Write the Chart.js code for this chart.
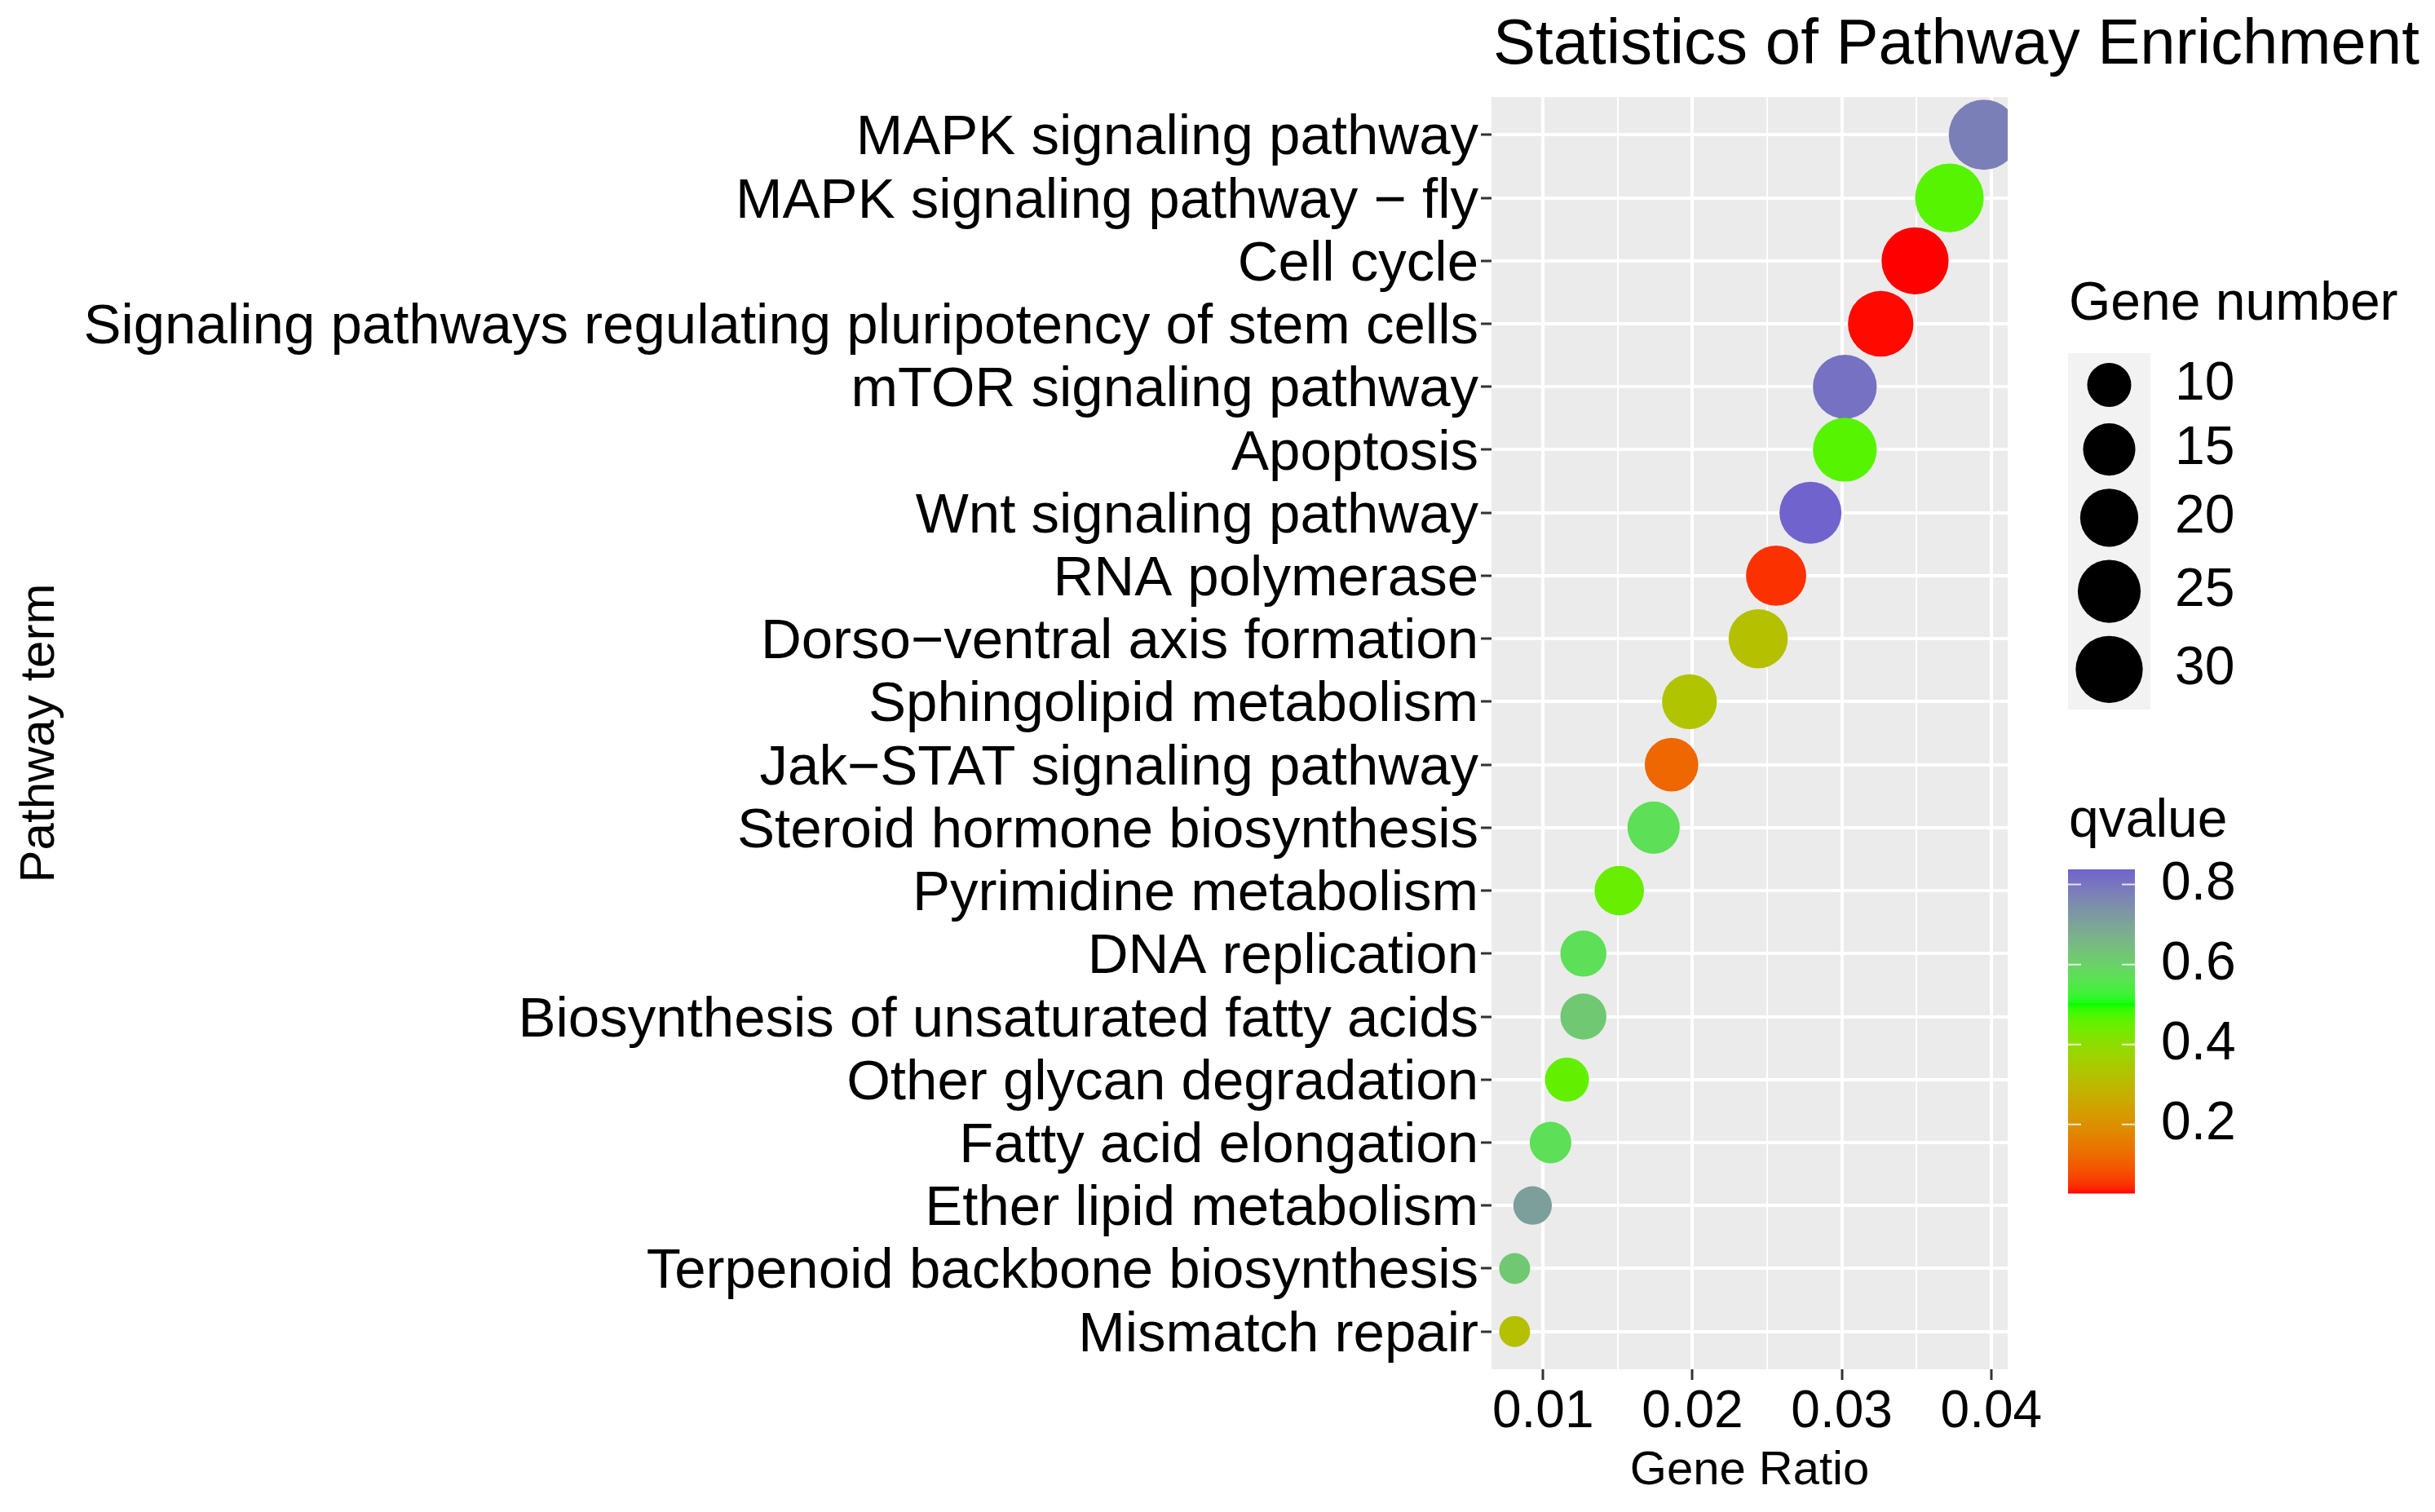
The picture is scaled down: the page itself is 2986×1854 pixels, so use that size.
<!DOCTYPE html>
<html>
<head>
<meta charset="utf-8">
<script src="https://cdn.jsdelivr.net/npm/chart.js@4.4.1/dist/chart.umd.min.js"></script>
<style>
	html, body { margin: 0; padding: 0; background: #fff; }
	#wrap { width: 2986px; height: 1854px; }
</style>
</head>
<body>
<div id="wrap"><canvas id="chart" width="2986" height="1854"></canvas></div>
<script>
//------------------------------------ Data ------------------------------------//

var chartTitle = 'Statistics of Pathway Enrichment';

var pathways = [
	'MAPK signaling pathway',
	'MAPK signaling pathway \u2212 fly',
	'Cell cycle',
	'Signaling pathways regulating pluripotency of stem cells',
	'mTOR signaling pathway',
	'Apoptosis',
	'Wnt signaling pathway',
	'RNA polymerase',
	'Dorso\u2212ventral axis formation',
	'Sphingolipid metabolism',
	'Jak\u2212STAT signaling pathway',
	'Steroid hormone biosynthesis',
	'Pyrimidine metabolism',
	'DNA replication',
	'Biosynthesis of unsaturated fatty acids',
	'Other glycan degradation',
	'Fatty acid elongation',
	'Ether lipid metabolism',
	'Terpenoid backbone biosynthesis',
	'Mismatch repair'
];

var geneRatio = [0.0395, 0.0372, 0.0349, 0.0326, 0.0302, 0.0302, 0.0279, 0.0256, 0.0244, 0.0198,
	0.0186, 0.0174, 0.0151, 0.0127, 0.0127, 0.0116, 0.0105, 0.0093, 0.0081, 0.0081];

var geneNumber = [34, 32, 30, 28, 26, 26, 24, 22, 21, 17, 16, 15, 13, 11, 11, 10, 9, 8, 7, 7];

var qvalue = [0.78, 0.467, 0.028, 0.03, 0.81, 0.467, 0.838, 0.05, 0.32, 0.33,
	0.118, 0.571, 0.45, 0.57, 0.62, 0.455, 0.57, 0.71, 0.62, 0.32];

var xTickValues = [0.01, 0.02, 0.03, 0.04];
var xTickLabels = ['0.01', '0.02', '0.03', '0.04'];
var xMinorValues = [0.015, 0.025, 0.035];

var sizeBreaks = [10, 15, 20, 25, 30];
var qBreaks = [0.2, 0.4, 0.6, 0.8];
var qBreakLabels = ['0.2', '0.4', '0.6', '0.8'];

//------------------------------------ Scales (size / colour) ------------------------------------//

var FONT = '"Liberation Sans", Arial, Helvetica, sans-serif';

var nMin = Math.min.apply(null, geneNumber);
var nMax = Math.max.apply(null, geneNumber);
var diamMin = 38, diamMax = 86;

function bubbleRadius(n) {
	var t = (n - nMin) / (nMax - nMin);
	return (diamMin + (diamMax - diamMin) * Math.sqrt(Math.max(t, 0))) / 2;
}

function toLinear(c) {
	c = c / 255;
	return c <= 0.04045 ? c / 12.92 : Math.pow((c + 0.055) / 1.055, 2.4);
}

function hexToLab(hex) {
	var r = toLinear(parseInt(hex.substr(1, 2), 16));
	var g = toLinear(parseInt(hex.substr(3, 2), 16));
	var b = toLinear(parseInt(hex.substr(5, 2), 16));
	var x = (0.4124 * r + 0.3576 * g + 0.1805 * b) / 0.95047;
	var y = (0.2126 * r + 0.7152 * g + 0.0722 * b);
	var z = (0.0193 * r + 0.1192 * g + 0.9505 * b) / 1.08883;
	var f = function(t) { return t > 0.008856 ? Math.cbrt(t) : 7.787 * t + 16 / 116; };
	var fx = f(x), fy = f(y), fz = f(z);
	return [116 * fy - 16, 500 * (fx - fy), 200 * (fy - fz)];
}

function labToRgb(lab) {
	var fy = (lab[0] + 16) / 116;
	var fx = fy + lab[1] / 500;
	var fz = fy - lab[2] / 200;
	var inv = function(t) { var t3 = t * t * t; return t3 > 0.008856 ? t3 : (t - 16 / 116) / 7.787; };
	var x = 0.95047 * inv(fx), y = inv(fy), z = 1.08883 * inv(fz);
	var rgb = [
		3.2406 * x - 1.5372 * y - 0.4986 * z,
		-0.9689 * x + 1.8758 * y + 0.0415 * z,
		0.0557 * x - 0.2040 * y + 1.0570 * z
	].map(function(c) {
		c = c <= 0.0031308 ? 12.92 * c : 1.055 * Math.pow(c, 1 / 2.4) - 0.055;
		return Math.round(Math.min(1, Math.max(0, c)) * 255);
	});
	return 'rgb(' + rgb.join(',') + ')';
}

var lowLab = hexToLab('#FF0000');
var midLab = hexToLab('#00FF00');
var highLab = hexToLab('#0000FF');
var qMid = 0.5;
var qMin = Math.min.apply(null, qvalue);
var qMax = Math.max.apply(null, qvalue);
var qExtent = Math.max(Math.abs(qMin - qMid), Math.abs(qMax - qMid));

function mixLab(a, b, t) {
	return [a[0] + (b[0] - a[0]) * t, a[1] + (b[1] - a[1]) * t, a[2] + (b[2] - a[2]) * t];
}

function qColor(q) {
	var t = 0.5 + (q - qMid) / (2 * qExtent);
	t = Math.min(1, Math.max(0, t));
	if(t <= 0.5) {
		return labToRgb(mixLab(lowLab, midLab, t / 0.5));
	}
	return labToRgb(mixLab(midLab, highLab, (t - 0.5) / 0.5));
}

function isMajorX(v) {
	return xTickValues.some(function(m) { return Math.abs(m - v) < 1e-9; });
}

//------------------------------------ Plugins ------------------------------------//

var panelBackground = {
	id: 'panelBackground',
	beforeDraw: function(chart) {
		var ctx = chart.ctx;
		var a = chart.chartArea;
		ctx.save();
		ctx.fillStyle = '#ffffff';
		ctx.fillRect(0, 0, chart.width, chart.height);
		ctx.fillStyle = '#EBEBEB';
		ctx.fillRect(a.left, a.top, a.right - a.left, a.bottom - a.top);
		ctx.restore();
	}
};

var sideLegends = {
	id: 'sideLegends',
	afterDraw: function(chart) {
		var ctx = chart.ctx;
		ctx.save();

		// title
		ctx.fillStyle = '#000';
		ctx.textAlign = 'left';
		ctx.textBaseline = 'alphabetic';
		ctx.font = '78px ' + FONT;
		ctx.fillText(chartTitle, 1831, 78);

		// size legend
		ctx.font = '66px ' + FONT;
		ctx.fillText('Gene number', 2537, 392);

		var keyLeft = 2536, keyWidth = 101, keyTop = 433;
		var diams = sizeBreaks.map(function(n) { return 2 * bubbleRadius(n); });
		var heights = diams.map(function(d) { return Math.max(78, d + 16); });
		var keyHeight = heights.reduce(function(s, h) { return s + h; }, 0);
		ctx.fillStyle = '#F2F2F2';
		ctx.fillRect(keyLeft, keyTop, keyWidth, keyHeight);

		var y = keyTop;
		ctx.textBaseline = 'middle';
		diams.forEach(function(d, i) {
			var cy = y + heights[i] / 2;
			ctx.fillStyle = '#000';
			ctx.beginPath();
			ctx.arc(keyLeft + keyWidth / 2, cy, d / 2, 0, Math.PI * 2);
			ctx.fill();
			ctx.fillText(String(sizeBreaks[i]), 2667, cy);
			y += heights[i];
		});

		// colour bar
		ctx.textBaseline = 'alphabetic';
		ctx.fillText('qvalue', 2537, 1026);

		var bx = 2536, bw = 82, bt = 1066, bb = 1463;
		for(var py = bt; py < bb; py++) {
			var q = qMax - (py + 0.5 - bt) / (bb - bt) * (qMax - qMin);
			ctx.fillStyle = qColor(q);
			ctx.fillRect(bx, py, bw, 1.5);
		}

		ctx.textBaseline = 'middle';
		qBreaks.forEach(function(q, i) {
			var ty = bb - (q - qMin) / (qMax - qMin) * (bb - bt);
			ctx.strokeStyle = 'rgba(255,255,255,0.8)';
			ctx.lineWidth = 2;
			ctx.beginPath();
			ctx.moveTo(bx, ty);
			ctx.lineTo(bx + 16, ty);
			ctx.moveTo(bx + bw - 16, ty);
			ctx.lineTo(bx + bw, ty);
			ctx.stroke();
			ctx.fillStyle = '#000';
			ctx.fillText(qBreakLabels[i], 2650, ty);
		});

		ctx.restore();
	}
};

//------------------------------------ Chart ------------------------------------//

Chart.defaults.font.family = FONT;

var points = pathways.map(function(p, i) {
	return { x: geneRatio[i], y: i, r: bubbleRadius(geneNumber[i]) };
});

var chart = new Chart(document.getElementById('chart'), {
	type: 'bubble',
	data: {
		datasets: [{
			data: points,
			backgroundColor: qvalue.map(qColor),
			borderWidth: 0,
			hoverBorderWidth: 0,
			clip: 0
		}]
	},
	options: {
		responsive: false,
		devicePixelRatio: 1,
		animation: false,
		events: [],
		layout: { padding: { top: 119, right: 524, bottom: 0, left: 0 } },
		plugins: {
			legend: { display: false },
			title: { display: false },
			tooltip: { enabled: false }
		},
		scales: {
			x: {
				type: 'linear',
				min: 0.00655,
				max: 0.0411,
				afterBuildTicks: function(scale) {
					scale.ticks = xTickValues.concat(xMinorValues)
						.sort(function(a, b) { return a - b; })
						.map(function(v) { return { value: v }; });
				},
				afterFit: function(scale) { scale.height = 175; },
				border: { display: false },
				grid: {
					color: '#ffffff',
					lineWidth: function(c) { return c.tick && isMajorX(c.tick.value) ? 4 : 2; },
					tickColor: function(c) { return c.tick && isMajorX(c.tick.value) ? '#333333' : 'rgba(0,0,0,0)'; },
					tickLength: 13,
					tickWidth: 3
				},
				ticks: {
					autoSkip: false,
					maxRotation: 0,
					padding: 8,
					color: '#000',
					font: { size: 64, lineHeight: 1 },
					callback: function(v) {
						var i = xTickValues.findIndex(function(m) { return Math.abs(m - v) < 1e-9; });
						return i >= 0 ? xTickLabels[i] : '';
					}
				},
				title: {
					display: true,
					text: 'Gene Ratio',
					color: '#000',
					font: { size: 58, lineHeight: 1 },
					padding: { top: 0, bottom: 21 }
				}
			},
			y: {
				type: 'linear',
				reverse: true,
				min: -0.6,
				max: pathways.length - 1 + 0.6,
				afterBuildTicks: function(scale) {
					scale.ticks = pathways.map(function(p, i) { return { value: i }; });
				},
				afterFit: function(scale) { scale.width = 1829; },
				border: { display: false },
				grid: {
					color: '#ffffff',
					lineWidth: 4,
					tickColor: '#333333',
					tickLength: 13,
					tickWidth: 3
				},
				ticks: {
					autoSkip: false,
					padding: 3,
					labelOffset: 5,
					color: '#000',
					font: { size: 69, lineHeight: 1 },
					callback: function(v) { return pathways[v]; }
				},
				title: {
					display: true,
					text: 'Pathway term',
					color: '#000',
					font: { size: 60, lineHeight: 1 },
					padding: { top: 19, bottom: 0 }
				}
			}
		}
	},
	plugins: [panelBackground, sideLegends]
});
</script>
</body>
</html>
